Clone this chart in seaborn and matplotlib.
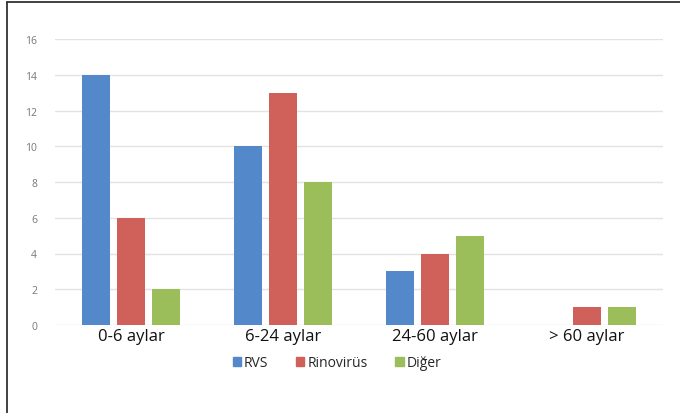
import matplotlib
matplotlib.use("Agg")
import matplotlib.pyplot as plt
from matplotlib.lines import Line2D
import seaborn as sns
import pandas as pd

categories = ["0-6 aylar", "6-24 aylar", "24-60 aylar", "> 60 aylar"]
series = ["RVS", "Rinovirüs", "Diğer"]
rvs = [14, 10, 3, 0]
rinovirus = [6, 13, 4, 1]
diger = [2, 8, 5, 1]
yticks = [0, 2, 4, 6, 8, 10, 12, 14, 16]

colors = ["#5389CB", "#D0605A", "#9BBD5A"]

df = pd.DataFrame({
    "grup": categories * 3,
    "virus": [s for s in series for _ in categories],
    "sayi": rvs + rinovirus + diger,
})

sns.set_theme(style="white")
plt.rcParams["font.family"] = ["Open Sans", "DejaVu Sans"]

fig = plt.figure(figsize=(6.8, 4.14), dpi=100)
ax = fig.add_axes([55 / 680, 1 - 326 / 414, 608 / 680, 286 / 414])

sns.barplot(data=df, x="grup", y="sayi", hue="virus", order=categories,
            hue_order=series, palette=colors, width=0.69, gap=0.2,
            saturation=1, linewidth=0, ax=ax, legend=False)

ax.set_ylim(0, 16)
ax.set_yticks(yticks)
ax.set_yticklabels([str(v) for v in yticks], fontsize=7.5, color="#777777")
ax.tick_params(axis="y", length=0, pad=13)
ax.tick_params(axis="x", length=0, pad=2, labelsize=12, labelcolor="#111111")
ax.set_xlabel("")
ax.set_ylabel("")
ax.grid(axis="y", color="#e2e2e2", linewidth=1)
ax.set_axisbelow(True)
for s in ax.spines.values():
    s.set_visible(False)
ax.set_xlim(-0.5, 3.5)

handles = [plt.Rectangle((0, 0), 1, 1, color=c) for c in colors]
fig.legend(handles, series, loc="center", bbox_to_anchor=(337 / 680, 1 - 364 / 414),
           ncol=3, frameon=False, fontsize=10, handlelength=0.6, handleheight=0.6,
           handletextpad=0.2, columnspacing=2.0)

# frame lines along the left and top edges
fig.add_artist(Line2D([7 / 680, 7 / 680], [0, 1 - 3 / 414], color="#333333", linewidth=1.3))
fig.add_artist(Line2D([7 / 680, 1], [1 - 3 / 414, 1 - 3 / 414], color="#333333", linewidth=1.3))

fig.savefig("out.png", dpi=100, facecolor="white")
